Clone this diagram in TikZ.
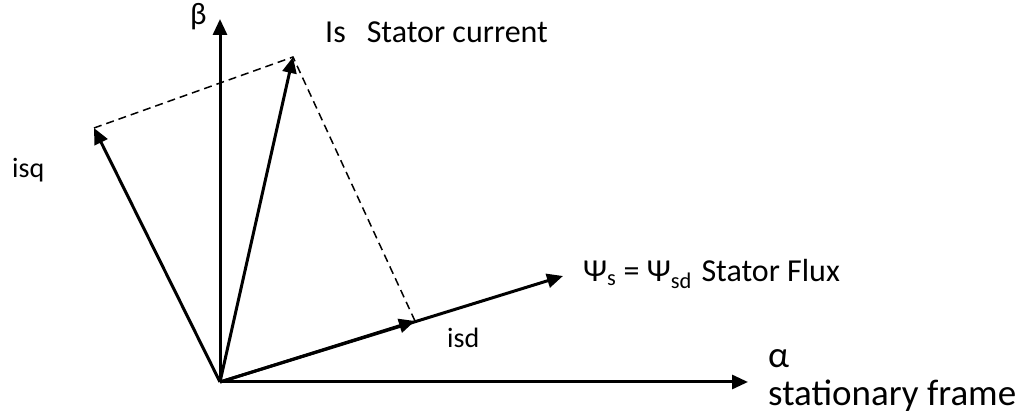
\documentclass[tikz,border=0pt]{standalone}
\usepackage{fontspec}
\setmainfont{Carlito}
\usetikzlibrary{arrows.meta}
\begin{document}
\begin{tikzpicture}[x=1pt,y=-1pt,
 vec/.style={line width=3pt,-{Triangle[length=16pt,width=14pt]}},
 proj/.style={line width=1.5pt,dash pattern=on 8pt off 5pt},
 lbl/.style={anchor=base west,inner sep=0pt,font=\fontsize{28}{30}\selectfont},
 mid/.style={anchor=base west,inner sep=0pt,font=\fontsize{32}{34}\selectfont},
 big/.style={anchor=base west,inner sep=0pt,font=\fontsize{37}{40}\selectfont}]
\useasboundingbox (0,0) rectangle (1021,419);
\coordinate (O) at (220,382);
\coordinate (A) at (748,382);
\coordinate (B) at (220,19);
\coordinate (Is) at (293,57);
\coordinate (Isq) at (94,128);
\coordinate (Isd) at (415,321);
\coordinate (Psi) at (563,276);
\draw[proj] (Isq) -- (Is) -- (Isd);
\draw[vec] (O) -- (A);
\draw[vec] (O) -- (B);
\draw[vec] (O) -- (Psi);
\draw[vec] (O) -- (Isd);
\draw[vec] (O) -- (Is);
\draw[vec] (O) -- (Isq);
\node[anchor=base west,inner sep=0pt,font=\fontsize{31}{33}\selectfont] (beta) at (190,25) {β};
\node[mid] (islbl) at (325,43) {Is\hspace{21pt}Stator current};
\node[lbl] (isqlbl) at (12,178) {isq};
\node[lbl] (isdlbl) at (447,348) {isd};
\node[mid] (psilbl) at (583,282) {Ψ\textsubscript{s} = Ψ\textsubscript{sd}\hspace{0.3em}Stator Flux};
\node[big] (alpha) at (768,368) {α};
\node[big] (frame) at (768,406) {stationary frame};
\end{tikzpicture}
\end{document}
